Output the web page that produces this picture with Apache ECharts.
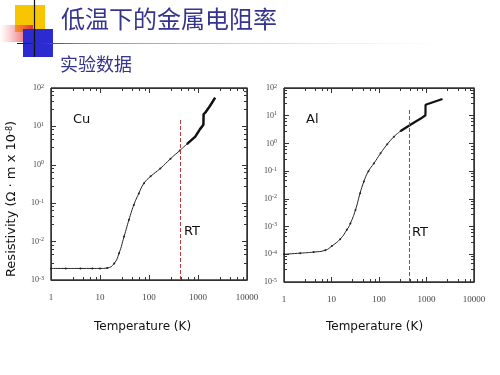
<!DOCTYPE html>
<html>
<head>
<meta charset="utf-8">
<script src="https://cdn.jsdelivr.net/npm/echarts@6/dist/echarts.min.js"></script>
<style>
html, body { margin: 0; padding: 0; background: #fff; }
#chart { width: 500px; height: 375px; }
</style>
</head>
<body>
<div id="chart"></div>
<script>
// Cu, resistivity (ohm m x 1e-8) vs temperature (K)
var cuTemp = [1, 2, 4, 7, 10, 14, 19.5, 24.5, 31, 39, 49, 62, 79, 108, 170, 275, 425, 600];
var cuRho = [2e-3, 2e-3, 2e-3, 2e-3, 2e-3, 2.05e-3, 2.7e-3, 5e-3, 0.0135, 0.037, 0.09, 0.18, 0.33, 0.5, 0.8, 1.44, 2.35, 3.5];
var cuHighTemp = [600, 880, 1100, 1290, 1300, 1450, 1640, 1900, 2240];
var cuHighRho = [3.5, 5.4, 8.5, 11, 20.7, 24, 30, 40, 56];

// Al
var alTemp = [1, 2.2, 4.2, 7.4, 10.2, 15.2, 21, 25, 32, 40, 48, 60, 78, 108, 149, 206, 285];
var alRho = [1e-4, 1.1e-4, 1.2e-4, 1.4e-4, 2e-4, 3.5e-4, 7.6e-4, 1.3e-3, 4e-3, 0.016, 0.042, 0.1, 0.19, 0.44, 0.93, 1.74, 2.8];
var alHighTemp = [285, 395, 548, 757, 950, 955, 1045, 2170];
var alHighRho = [2.8, 4.0, 5.7, 7.9, 10.4, 24.7, 28, 40];

var tempRange = [1, 10000];
var cuRhoRange = [1e-3, 1e2];
var alRhoRange = [1e-5, 1e2];
var rtTemp = 430;
var cuRtTop = 15;
var alRtTop = 19;

function pairs(xs, ys) {
    return xs.map(function (x, i) { return [x, ys[i]]; });
}

var tickFont = 'Liberation Serif';

function axisBase(grid, range) {
    return {
        type: 'log', gridIndex: grid, min: range[0], max: range[1],
        axisLine: { show: true, onZero: false, lineStyle: { color: '#333' } },
        axisTick: { show: true, inside: true },
        minorTick: { show: true },
        splitLine: { show: false }
    };
}

function xAxes(grid) {
    return [
        Object.assign(axisBase(grid, tempRange), {
            position: 'bottom',
            axisLabel: {
                fontFamily: tickFont, fontSize: 9, color: '#444', margin: 13,
                formatter: function (v) { return String(Math.round(v)); }
            }
        }),
        Object.assign(axisBase(grid, tempRange), { position: 'top', axisLabel: { show: false } })
    ];
}

function yAxes(grid, range) {
    return [
        Object.assign(axisBase(grid, range), {
            position: 'left',
            axisLabel: {
                fontFamily: tickFont, fontSize: 8, color: '#444', margin: 7,
                formatter: function (v) {
                    return '10{s|' + Math.round(Math.log10(v)) + '}';
                },
                rich: { s: { fontFamily: tickFont, fontSize: 6, color: '#444', verticalAlign: 'top', padding: [0, 0, 4, 0] } }
            }
        }),
        Object.assign(axisBase(grid, range), { position: 'right', axisLabel: { show: false } })
    ];
}

function rtLine(top, rangeMin) {
    return {
        silent: true,
        symbol: ['none', 'none'],
        label: { show: false },
        lineStyle: { color: '#b83a3a', type: [4, 2], width: 1 },
        data: [[{ coord: [rtTemp, rangeMin] }, { coord: [rtTemp, top] }]]
    };
}

// plot frame drawn through the axes' own scales
function frame(range) {
    return {
        silent: true,
        label: { show: false },
        itemStyle: { color: 'rgba(0,0,0,0)', borderColor: '#333', borderWidth: 1 },
        data: [[{ coord: [tempRange[0], range[0]] }, { coord: [tempRange[1], range[1]] }]]
    };
}

var chart = echarts.init(document.getElementById('chart'));

var option = {
    animation: false,
    grid: [
        { left: 51, top: 88, width: 196, height: 192, show: true, borderColor: '#333', borderWidth: 1, backgroundColor: 'transparent' },
        { left: 284, top: 88, width: 190, height: 194, show: true, borderColor: '#333', borderWidth: 1, backgroundColor: 'transparent' }
    ],
    xAxis: xAxes(0).concat(xAxes(1)),
    yAxis: yAxes(0, cuRhoRange).concat(yAxes(1, alRhoRange)),
    series: [
        {
            type: 'line', xAxisIndex: 0, yAxisIndex: 0, smooth: 0.5,
            data: pairs(cuTemp, cuRho),
            symbol: 'circle', symbolSize: 2,
            itemStyle: { color: '#222' },
            lineStyle: { color: '#222', width: 1 },
            markLine: rtLine(cuRtTop, cuRhoRange[0]),
            markArea: frame(cuRhoRange)
        },
        {
            type: 'line', xAxisIndex: 0, yAxisIndex: 0,
            data: pairs(cuHighTemp, cuHighRho),
            symbol: 'none',
            lineStyle: { color: '#111', width: 2.5 }
        },
        {
            type: 'line', xAxisIndex: 2, yAxisIndex: 2, smooth: 0.5,
            data: pairs(alTemp, alRho),
            symbol: 'circle', symbolSize: 2,
            itemStyle: { color: '#222' },
            lineStyle: { color: '#222', width: 1 },
            markLine: rtLine(alRtTop, alRhoRange[0]),
            markArea: frame(alRhoRange)
        },
        {
            type: 'line', xAxisIndex: 2, yAxisIndex: 2,
            data: pairs(alHighTemp, alHighRho),
            symbol: 'none',
            lineStyle: { color: '#111', width: 2.2 }
        }
    ],
    graphic: [
        // slide decoration
        { type: 'rect', shape: { x: 15, y: 5, width: 30, height: 27 }, style: { fill: '#f7c600' } },
        {
            type: 'rect', shape: { x: 0, y: 25, width: 33, height: 17 },
            style: {
                fill: new echarts.graphic.LinearGradient(0, 0, 1, 0, [
                    { offset: 0, color: 'rgba(240,120,130,0)' },
                    { offset: 1, color: 'rgba(228,40,50,0.95)' }
                ])
            }
        },
        { type: 'rect', shape: { x: 23, y: 29, width: 30, height: 28 }, style: { fill: '#2b2bd0' } },
        { type: 'line', shape: { x1: 34.5, y1: 0, x2: 34.5, y2: 57 }, style: { stroke: '#111', lineWidth: 1.2 } },
        {
            type: 'line', shape: { x1: 17, y1: 43.5, x2: 460, y2: 43.5 },
            style: {
                lineWidth: 1.2,
                stroke: new echarts.graphic.LinearGradient(0, 0, 1, 0, [
                    { offset: 0, color: '#111' },
                    { offset: 0.15, color: '#888' },
                    { offset: 1, color: 'rgba(230,230,230,0)' }
                ])
            }
        },
        {
            type: 'text', left: 61, top: 7,
            style: { text: '低温下的金属电阻率', font: '24px "Noto Sans CJK SC"', fill: '#35358f' }
        },
        {
            type: 'text', left: 60, top: 55,
            style: { text: '实验数据', font: '18px "Noto Sans CJK SC"', fill: '#35358f' }
        },
        // in-plot labels
        { type: 'text', left: 73, top: 113, style: { text: 'Cu', font: '13px "DejaVu Sans"', fill: '#111' } },
        { type: 'text', left: 306, top: 113, style: { text: 'Al', font: '13px "DejaVu Sans"', fill: '#111' } },
        { type: 'text', left: 184, top: 225, style: { text: 'RT', font: '13px "DejaVu Sans"', fill: '#111' } },
        { type: 'text', left: 412, top: 226, style: { text: 'RT', font: '13px "DejaVu Sans"', fill: '#111' } },
        // axis titles
        { type: 'text', left: 94, top: 321, style: { text: 'Temperature (K)', font: '12px "DejaVu Sans"', fill: '#111' } },
        { type: 'text', left: 326, top: 321, style: { text: 'Temperature (K)', font: '12px "DejaVu Sans"', fill: '#111' } },
        {
            type: 'text', x: 12, y: 199, rotation: Math.PI / 2,
            style: {
                text: 'Resistivity (Ω · m x 10{s|-8})',
                font: '13px "DejaVu Sans"', fill: '#111',
                align: 'center', verticalAlign: 'middle',
                rich: { s: { fontSize: 8, fontFamily: 'DejaVu Sans', fill: '#111', verticalAlign: 'top', padding: [0, 0, 5, 0] } }
            }
        }
    ]
};

chart.setOption(option);
</script>
</body>
</html>
